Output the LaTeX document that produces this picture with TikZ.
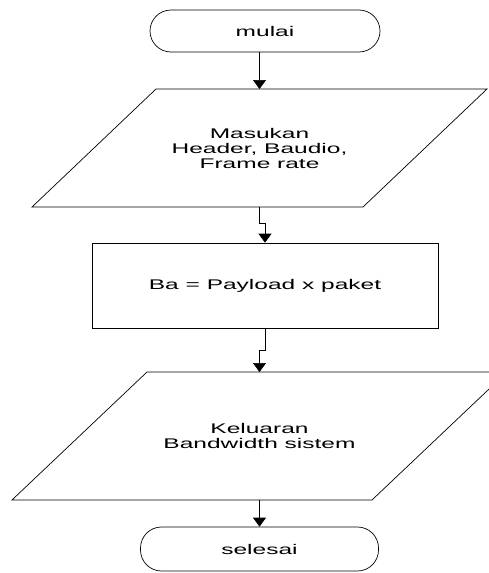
\documentclass[tikz,border=0pt]{standalone}
\usepackage{fontspec}
\setmainfont{Liberation Sans}[FakeStretch=1.75]
\usetikzlibrary{arrows.meta}

\begin{document}
\begin{tikzpicture}[x=1pt,y=-1pt,>={Triangle[width=13pt,length=9pt]},line width=0.7pt,
	font=\fontsize{14}{15}\selectfont,
	terminal/.style={draw,rectangle,rounded corners=21pt,minimum width=230pt,minimum height=42pt,inner sep=0pt},
	label/.style={align=center,inner sep=0pt},
	process/.style={draw,rectangle,minimum width=346pt,minimum height=85pt,align=center}]
\useasboundingbox (0,0) rectangle (489,573);
\node[terminal] (mulai) at (265,31) {mulai};
% input parallelogram
\draw (156,89) coordinate (masukan-n) -- (487,89) -- (363,207) -- (32,207) coordinate (masukan-s) -- cycle;
\node[label] (masukan) at (259.5,148) {Masukan\\Header, Baudio,\\Frame rate};
\node[process] (hitung) at (265,285.5) {Ba = Payload x paket};
% output parallelogram
\draw (147,372) coordinate (keluaran-n) -- (507,372) -- (372,500) -- (12,500) coordinate (keluaran-s) -- cycle;
\node[label] (keluaran) at (259.5,436) {Keluaran\\Bandwidth sistem};
\node[terminal,minimum width=238pt,minimum height=44pt] (selesai) at (259.5,549) {selesai};
\draw[->] (mulai.south -| masukan) -- (masukan-n -| masukan);
\draw[->] (masukan-s -| masukan) -- ++(0,16) -| (hitung.north);
\draw[->] (hitung.south) -- ++(0,22) -| (keluaran-n -| keluaran);
\draw[->] (keluaran-s -| keluaran) -- (selesai.north);
\end{tikzpicture}
\end{document}
